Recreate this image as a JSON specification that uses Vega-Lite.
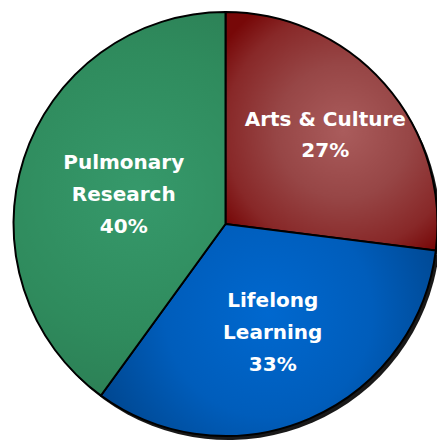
{
  "$schema": "https://vega.github.io/schema/vega-lite/v6.json",
  "autosize": {"type": "fit", "contains": "padding"},
  "width": 437,
  "height": 440,
  "padding": {"left": 14, "top": 8, "right": 0, "bottom": 0},
  "background": "white",
  "view": {"stroke": null},
  "data": {
    "values": [
      {"category": "Arts & Culture", "share": 27, "order": 1, "label": ["Arts & Culture", "27%"]},
      {"category": "Lifelong Learning", "share": 33, "order": 2, "label": ["Lifelong", "Learning", "33%"]},
      {"category": "Pulmonary Research", "share": 40, "order": 3, "label": ["Pulmonary", "Research", "40%"]}
    ]
  },
  "encoding": {
    "theta": {"field": "share", "type": "quantitative", "stack": true},
    "order": {"field": "order", "type": "quantitative"}
  },
  "layer": [
    {
      "mark": {"type": "arc", "outerRadius": 212, "fill": "#000000", "opacity": 0.9, "xOffset": 3, "yOffset": 4}
    },
    {
      "mark": {"type": "arc", "outerRadius": 212, "stroke": "#000000", "strokeWidth": 2},
      "encoding": {
        "fill": {
          "condition": [
            {"test": "datum.category === 'Arts & Culture'", "value": {"gradient": "radial", "x1": 0.55, "y1": 0.5, "r1": 0, "x2": 0.55, "y2": 0.5, "r2": 0.62, "stops": [{"offset": 0, "color": "#aa5c5c"}, {"offset": 0.45, "color": "#974646"}, {"offset": 0.8, "color": "#882828"}, {"offset": 1, "color": "#770808"}]}},
            {"test": "datum.category === 'Lifelong Learning'", "value": {"gradient": "radial", "x1": 0.5, "y1": 0.45, "r1": 0, "x2": 0.5, "y2": 0.45, "r2": 0.62, "stops": [{"offset": 0, "color": "#0068cf"}, {"offset": 0.5, "color": "#005dbb"}, {"offset": 1, "color": "#004185"}]}}
          ],
          "value": {"gradient": "radial", "x1": 0.55, "y1": 0.47, "r1": 0, "x2": 0.55, "y2": 0.47, "r2": 0.62, "stops": [{"offset": 0, "color": "#36996b"}, {"offset": 0.6, "color": "#2f8b5d"}, {"offset": 1, "color": "#2b7c53"}]}
        }
      }
    },
    {
      "mark": {"type": "text", "radius": 133, "dy": -16, "font": "DejaVu Sans", "fontWeight": "bold", "fontSize": 20, "lineHeight": 31, "fill": "white", "baseline": "middle", "align": "center"},
      "encoding": {"text": {"condition": {"test": "datum.category === 'Arts & Culture'", "field": "label"}, "value": ""}}
    },
    {
      "mark": {"type": "text", "radius": 119, "dy": -32, "font": "DejaVu Sans", "fontWeight": "bold", "fontSize": 20, "lineHeight": 32, "fill": "white", "baseline": "middle", "align": "center"},
      "encoding": {"text": {"condition": {"test": "datum.category === 'Lifelong Learning'", "field": "label"}, "value": ""}}
    },
    {
      "mark": {"type": "text", "radius": 107, "dy": -28, "font": "DejaVu Sans", "fontWeight": "bold", "fontSize": 20, "lineHeight": 32, "fill": "white", "baseline": "middle", "align": "center"},
      "encoding": {"text": {"condition": {"test": "datum.category === 'Pulmonary Research'", "field": "label"}, "value": ""}}
    }
  ]
}
